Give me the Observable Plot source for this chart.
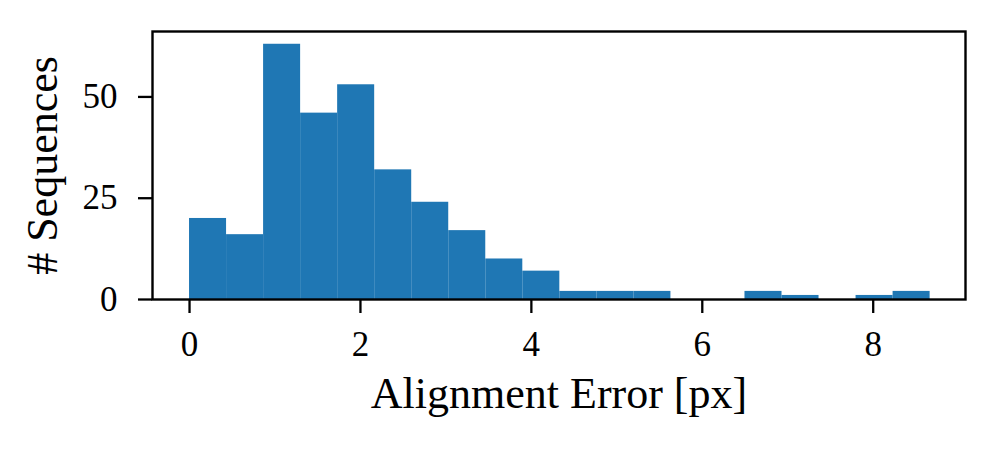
<!DOCTYPE html>
<html>
<head>
<meta charset="utf-8">
<script src="https://cdn.jsdelivr.net/npm/d3@7"></script>
<script src="https://cdn.jsdelivr.net/npm/@observablehq/plot@0.6"></script>
<style>
  html, body { margin: 0; padding: 0; background: #fff; }
  #chart svg { display: block; }
  #chart g[aria-label="x-axis tick"] path,
  #chart g[aria-label="y-axis tick"] path { stroke-width: 2.3px; }
</style>
</head>
<body>
<div id="chart"></div>
<script>
// Histogram: 20 equal-width bins from 0 to ~8.666 px
const binStart = 0;
const binWidth = 0.4333;
const counts = [20, 16, 63, 46, 53, 32, 24, 17, 10, 7, 2, 2, 2, 0, 0, 2, 1, 0, 1, 2];
const xTicks = [0, 2, 4, 6, 8];
const yTicks = [0, 25, 50];
const xLabel = "Alignment Error [px]";
const yLabel = "# Sequences";

const bins = counts.map((c, i) => ({
  x1: binStart + i * binWidth,
  x2: binStart + (i + 1) * binWidth,
  y: c
}));

const font = "'Liberation Serif', 'DejaVu Serif', serif";
const fsTick = 35;
const fsLabel = 44;

const chart = Plot.plot({
  width: 997,
  height: 451,
  marginLeft: 152,
  marginRight: 32,
  marginTop: 31,
  marginBottom: 152,
  style: { fontFamily: font, fontSize: fsTick + "px", color: "black", background: "white" },
  x: { domain: [-0.4333, 9.08] },
  y: { domain: [0, 66.15] },
  marks: [
    Plot.rectY(bins, { x1: "x1", x2: "x2", y: "y", fill: "#1f77b4" }),
    Plot.axisX({ ticks: xTicks, tickSize: 14, tickPadding: 18, label: null, fontSize: fsTick, strokeWidth: 2.3 }),
    Plot.axisY({ ticks: yTicks, tickSize: 14, tickPadding: 21, label: null, fontSize: fsTick, strokeWidth: 2.3 }),
    Plot.frame({ stroke: "black", strokeWidth: 2.4 }),
    Plot.text([xLabel], { text: d => d, frameAnchor: "bottom", dy: 94, fontSize: fsLabel, lineAnchor: "middle", textAnchor: "middle" }),
    Plot.text([yLabel], { text: d => d, frameAnchor: "left", dx: -110, rotate: -90, fontSize: fsLabel, lineAnchor: "middle", textAnchor: "middle" })
  ]
});
document.getElementById("chart").appendChild(chart);
</script>
</body>
</html>
